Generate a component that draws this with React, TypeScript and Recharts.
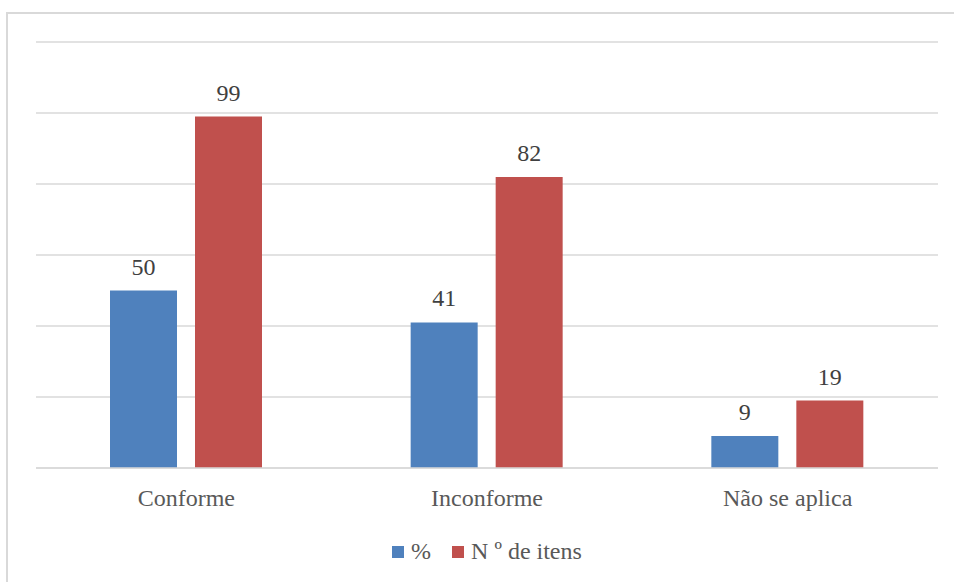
import { BarChart, Bar, XAxis, YAxis, CartesianGrid, Legend, LabelList } from 'recharts';

const categories = ['Conforme', 'Inconforme', 'Não se aplica'];
const percentValues = [50, 41, 9];
const itemCounts = [99, 82, 19];
const yTicks = [0, 20, 40, 60, 80, 100, 120];

const chartData = categories.map((name, i) => ({
  name,
  percent: percentValues[i],
  items: itemCounts[i],
}));

const FONT = 'Liberation Serif, DejaVu Serif, serif';
const GRID = '#d9d9d9';

function LegendContent({ payload }: any) {
  return (
    <div style={{ display: 'flex', justifyContent: 'center', alignItems: 'center' }}>
      {(payload || []).map((entry: any, i: number) => (
        <div
          key={entry.value}
          style={{ display: 'flex', alignItems: 'center', marginLeft: i === 0 ? 0 : 21 }}
        >
          <span style={{ width: 12, height: 12, background: entry.color, display: 'inline-block', marginRight: 7 }} />
          <span style={{ fontSize: 24, color: '#595959', fontFamily: FONT }}>{entry.value}</span>
        </div>
      ))}
    </div>
  );
}

export default function App() {
  return (
    <div
      style={{
        position: 'absolute',
        left: 0,
        top: 0,
        width: 954,
        height: 582,
        overflow: 'hidden',
        background: '#fff',
        fontFamily: FONT,
      }}
    >
      <div
        style={{
          position: 'absolute',
          left: 6,
          top: 12,
          width: 1000,
          height: 700,
          border: `2px solid ${GRID}`,
        }}
      />
      <div style={{ position: 'absolute', left: 0, top: 0 }}>
        <BarChart
          width={954}
          height={582}
          data={chartData}
          margin={{ top: 42, right: 16, left: 36, bottom: 74 }}
          barSize={67}
          barGap={18}
          style={{ fontFamily: FONT }}
        >
          <CartesianGrid vertical={false} stroke={GRID} strokeWidth={1.5} />
          <YAxis hide width={0} domain={[0, 120]} ticks={yTicks} />
          <XAxis
            dataKey="name"
            height={40}
            tickLine={false}
            tickSize={0}
            tickMargin={21}
            axisLine={{ stroke: GRID, strokeWidth: 1.5 }}
            tick={{ fill: '#595959', fontSize: 24, fontFamily: FONT }}
          />
          <Legend
            verticalAlign="middle"
            align="center"
            layout="horizontal"
            wrapperStyle={{ top: 538 }}
            content={<LegendContent />}
          />
          <Bar dataKey="percent" name="%" fill="#4f81bd" isAnimationActive={false}>
            <LabelList dataKey="percent" position="top" offset={16} fill="#404040" fontSize={24} fontFamily={FONT} />
          </Bar>
          <Bar dataKey="items" name="N º de itens" fill="#c0504d" isAnimationActive={false}>
            <LabelList dataKey="items" position="top" offset={16} fill="#404040" fontSize={24} fontFamily={FONT} />
          </Bar>
        </BarChart>
      </div>
    </div>
  );
}
